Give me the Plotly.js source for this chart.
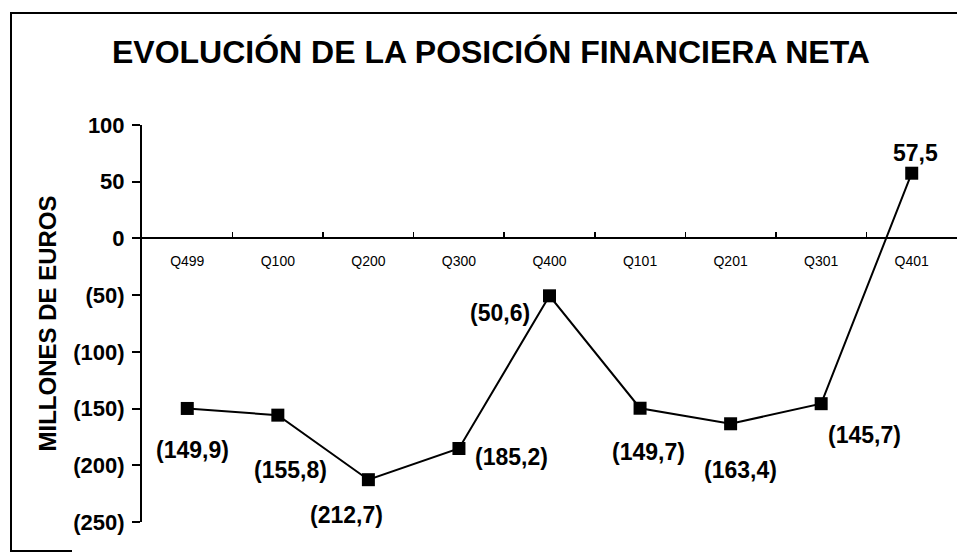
<!DOCTYPE html>
<html>
<head>
<meta charset="utf-8">
<script src="https://cdn.plot.ly/plotly-3.0.1.min.js"></script>
<style>
  html, body { margin: 0; padding: 0; background: #fff; }
  #wrap { position: relative; width: 957px; height: 554px; }
  #chart { position: absolute; left: 0; top: 0; width: 957px; height: 554px; }
  #frame { position: absolute; left: 10px; top: 12px; width: 947px; height: 538px;
           border-left: 2px solid #000; border-top: 2px solid #000; pointer-events: none; }
  #frameb { position: absolute; left: 10px; top: 550px; width: 62px; height: 0;
            border-top: 2px solid #000; pointer-events: none; }
</style>
</head>
<body>
<div id="wrap">
  <div id="chart"></div>
  <div id="frame"></div>
  <div id="frameb"></div>
</div>
<script>
// ---- data ----
const quarters = ["Q499", "Q100", "Q200", "Q300", "Q400", "Q101", "Q201", "Q301", "Q401"];
const netPosition = [-149.9, -155.8, -212.7, -185.2, -50.6, -149.7, -163.4, -145.7, 57.5];
const yTickVals = [100, 50, 0, -50, -100, -150, -200, -250];
const yTickText = ["100", "50", "0", "(50)", "(100)", "(150)", "(200)", "(250)"];
const titleText = "EVOLUCIÓN DE LA POSICIÓN FINANCIERA NETA";
const yTitleText = "MILLONES DE EUROS";

// ---- label placement (style only) ----
const labelDx = [5, 13, -22, 53, -50, 8, 10, 43, 4];
const labelDy = [-42, -55, -35, -8, -17, -44, -46, -31, 20];

function fmt(v) {
  const s = Math.abs(v).toFixed(1).replace(".", ",");
  return v < 0 ? "(" + s + ")" : s;
}

const yRange = [-250, 100];
const font = "Liberation Sans, Arial, sans-serif";

const annotations = quarters.map((q, i) => ({
  x: q, y: netPosition[i], xref: "x", yref: "y",
  text: "<b>" + fmt(netPosition[i]) + "</b>",
  showarrow: false, xshift: labelDx[i], yshift: labelDy[i],
  font: { family: font, size: 23, color: "#000" }
}));

const trace = {
  x: quarters, y: netPosition, type: "scatter", mode: "lines+markers",
  line: { color: "#000", width: 2 },
  marker: { symbol: "square", size: 13, color: "#000" },
  cliponaxis: false, hoverinfo: "skip"
};

const layout = {
  width: 957, height: 554,
  margin: { l: 142, r: 0, t: 125, b: 32 },
  paper_bgcolor: "#fff", plot_bgcolor: "rgba(0,0,0,0)",
  showlegend: false,
  title: {
    text: "<b>" + titleText + "</b>",
    font: { family: font, size: 32, color: "#000" },
    xref: "container", yref: "container", x: 0.513, y: 1 - 52 / 554,
    xanchor: "center", yanchor: "middle"
  },
  xaxis: {
    type: "category", range: [-0.5, quarters.length - 0.5],
    anchor: "free", position: (0 - yRange[0]) / (yRange[1] - yRange[0]),
    showline: true, linecolor: "#000", linewidth: 2,
    ticks: "inside", ticklen: 5, tickwidth: 1.5, tickcolor: "#000", tickson: "boundaries",
    showgrid: false, zeroline: false,
    tickfont: { family: font, size: 14, color: "#000" },
    ticklabelstandoff: 10, fixedrange: true
  },
  yaxis: {
    range: yRange, tickvals: yTickVals, ticktext: yTickText,
    showline: true, linecolor: "#000", linewidth: 2,
    ticks: "outside", ticklen: 8, tickwidth: 2, tickcolor: "#000",
    showgrid: false, zeroline: false,
    tickfont: { family: font, size: 22, color: "#000", weight: "bold" },
    ticklabelstandoff: 3,
    title: { text: "<b>" + yTitleText + "</b>", font: { family: font, size: 24, color: "#000" }, standoff: 10 },
    fixedrange: true
  },
  annotations: annotations
};

Plotly.newPlot("chart", [trace], layout, { displayModeBar: false, staticPlot: true });
</script>
</body>
</html>
